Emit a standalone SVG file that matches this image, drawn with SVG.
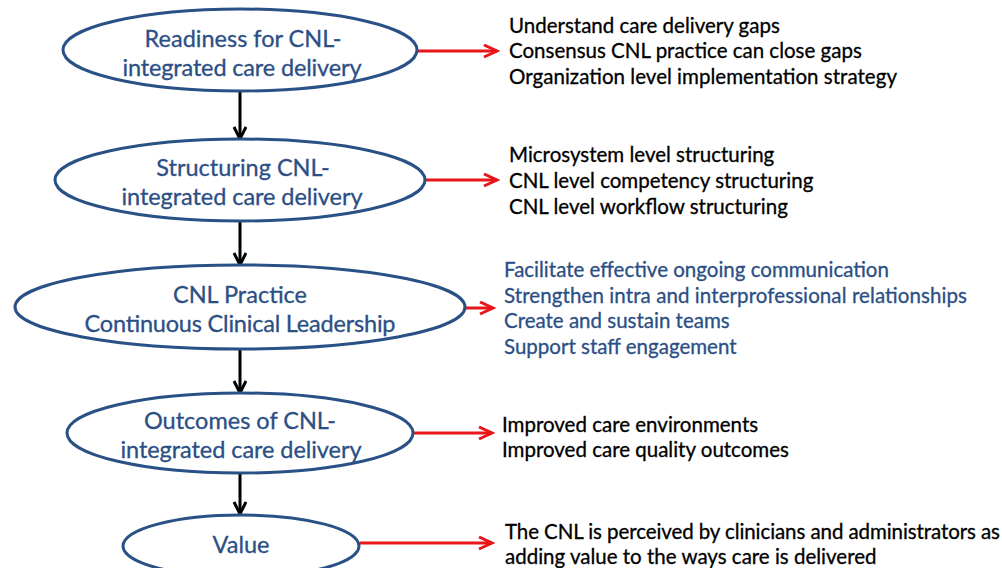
<svg xmlns="http://www.w3.org/2000/svg" width="1002" height="568" viewBox="0 0 1002 568">
  <defs>
    <marker id="headRed" markerUnits="userSpaceOnUse" markerWidth="18" markerHeight="16" refX="15" refY="7" orient="auto">
      <path d="M2,1 L15,7 L2,13" fill="none" stroke="#e8161b" stroke-width="3" stroke-linejoin="miter"/>
    </marker>
    <marker id="headBlack" markerUnits="userSpaceOnUse" markerWidth="18" markerHeight="16" refX="14" refY="7" orient="auto">
      <path d="M2,1 L14,7 L2,13" fill="none" stroke="#000" stroke-width="3" stroke-linejoin="miter"/>
    </marker>
    <style>
      .stage ellipse { fill: #fff; stroke: #2a5185; stroke-width: 3; }
      .stage text { font-family: Lato, "Open Sans", sans-serif; font-size: 23.5px; fill: #2b4f85; stroke: #2b4f85; stroke-width: 0.3; text-anchor: middle; }
      .items text { font-family: Lato, "Open Sans", sans-serif; font-size: 20.5px; stroke-width: 0.3; }
      .dark text { fill: #000; stroke: #000; }
      .blue text { fill: #2b4f85; stroke: #2b4f85; }
      .flow { stroke: #000; stroke-width: 3; fill: none; marker-end: url(#headBlack); }
      .out { stroke: #e8161b; stroke-width: 3; fill: none; marker-end: url(#headRed); }
    </style>
  </defs>
  <rect width="1002" height="568" fill="#fff"/>

  <!-- connectors -->
  <g id="connectors">
    <line class="flow" x1="240" y1="92" x2="240" y2="139"/>
    <line class="flow" x1="240" y1="222" x2="240" y2="265"/>
    <line class="flow" x1="240" y1="350" x2="240" y2="393"/>
    <line class="flow" x1="240" y1="474" x2="240" y2="514"/>
    <line class="out" x1="418" y1="51" x2="497" y2="51"/>
    <line class="out" x1="426" y1="180" x2="497" y2="180"/>
    <line class="out" x1="465" y1="308" x2="493" y2="308"/>
    <line class="out" x1="413" y1="433" x2="492" y2="433"/>
    <line class="out" x1="360" y1="543" x2="492" y2="543"/>
  </g>

  <!-- stages -->
  <g id="readiness" class="stage">
    <ellipse cx="240" cy="50" rx="177" ry="41"/>
    <text x="243" y="47">Readiness for CNL-</text>
    <text x="242" y="76" textLength="239">integrated care delivery</text>
  </g>
  <g id="structuring" class="stage">
    <ellipse cx="240" cy="180" rx="185" ry="41"/>
    <text x="243" y="176">Structuring CNL-</text>
    <text x="242" y="205" textLength="241">integrated care delivery</text>
  </g>
  <g id="practice" class="stage">
    <ellipse cx="240" cy="307" rx="225" ry="42"/>
    <text x="240" y="303">CNL Practice</text>
    <text x="240" y="332" textLength="311">Continuous Clinical Leadership</text>
  </g>
  <g id="outcomes" class="stage">
    <ellipse cx="240" cy="433" rx="173" ry="40"/>
    <text x="240" y="429">Outcomes of CNL-</text>
    <text x="241" y="458" textLength="241">integrated care delivery</text>
  </g>
  <g id="value" class="stage">
    <ellipse cx="241" cy="546" rx="118" ry="31"/>
    <text x="241" y="553">Value</text>
  </g>

  <!-- item lists -->
  <g id="readiness-items" class="items dark">
    <text x="509" y="33">Understand care delivery gaps</text>
    <text x="509" y="58">Consensus CNL practice can close gaps</text>
    <text x="509" y="84" textLength="388">Organization level implementation strategy</text>
  </g>
  <g id="structuring-items" class="items dark">
    <text x="509" y="162">Microsystem level structuring</text>
    <text x="509" y="188">CNL level competency structuring</text>
    <text x="509" y="214">CNL level workflow structuring</text>
  </g>
  <g id="practice-items" class="items blue">
    <text x="504" y="277">Facilitate effective ongoing communication</text>
    <text x="504" y="303" textLength="463">Strengthen intra and interprofessional relationships</text>
    <text x="504" y="328">Create and sustain teams</text>
    <text x="504" y="354">Support staff engagement</text>
  </g>
  <g id="outcomes-items" class="items dark">
    <text x="502" y="432">Improved care environments</text>
    <text x="502" y="457">Improved care quality outcomes</text>
  </g>
  <g id="value-items" class="items dark">
    <text x="505" y="539" textLength="495">The CNL is perceived by clinicians and administrators as</text>
    <text x="505" y="564">adding value to the ways care is delivered</text>
  </g>
</svg>
